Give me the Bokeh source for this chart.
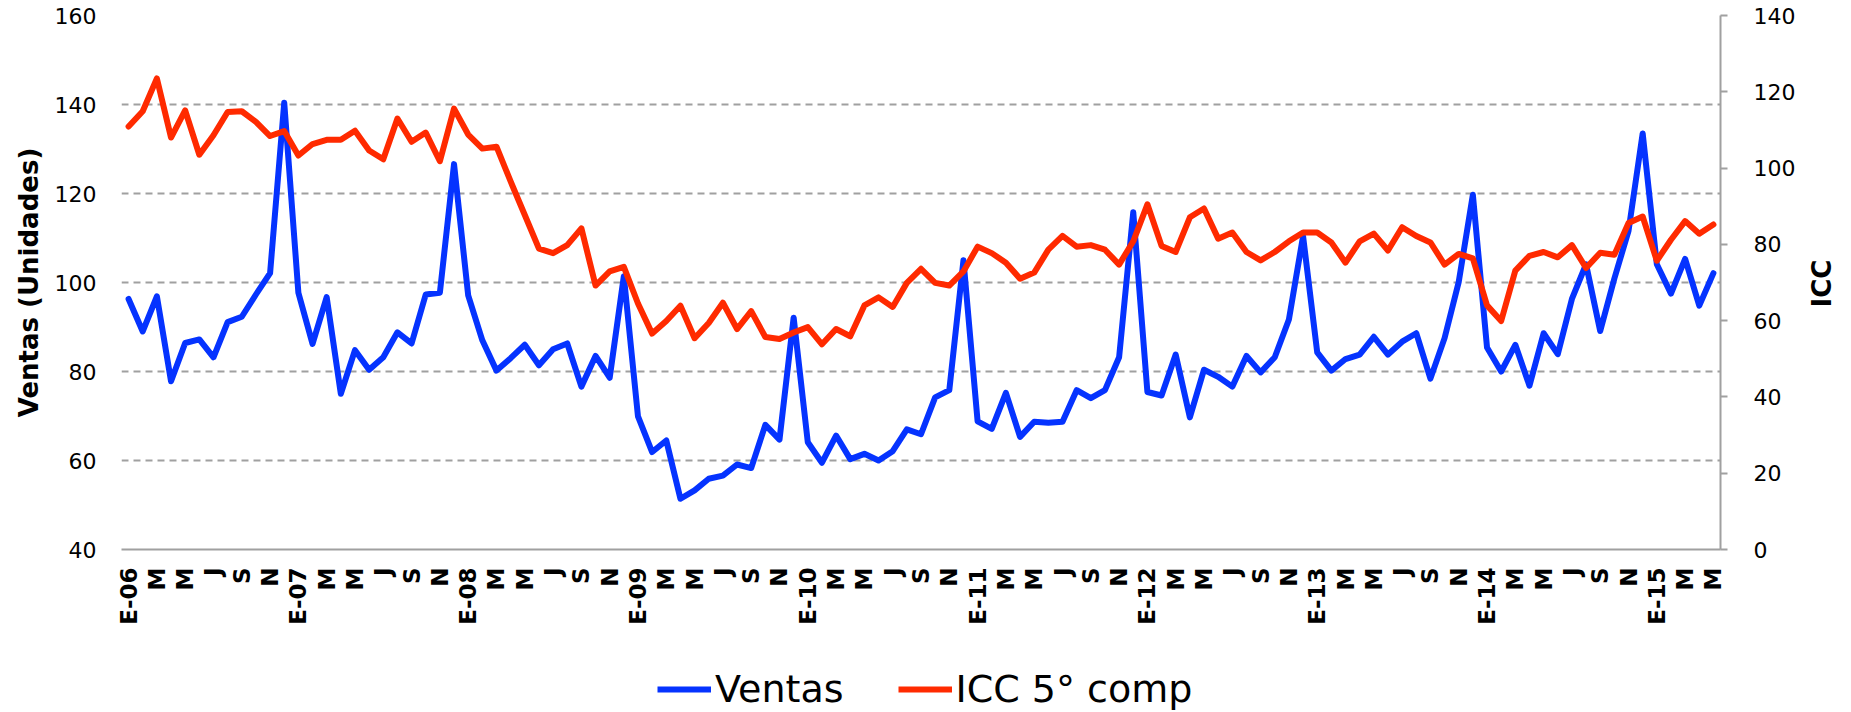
import math
from bokeh.plotting import figure
from bokeh.layouts import row, column
from bokeh.models import Range1d, LinearAxis, Legend, LegendItem, FixedTicker, ColumnDataSource
from bokeh.core.properties import value
from bokeh.embed import file_html
from bokeh.resources import INLINE

# ---- data -------------------------------------------------------------
month_letters = ["E", "F", "M", "A", "M", "J", "J", "A", "S", "O", "N", "D"]
years = [6, 7, 8, 9, 10, 11, 12, 13, 14, 15]

ventas = [96.3, 89.0, 96.9, 77.8, 86.4, 87.2, 83.2, 91.1, 92.3, 97.3, 102.1, 140.4,
          97.7, 86.2, 96.7, 75.0, 84.8, 80.4, 83.2, 88.8, 86.3, 97.3, 97.7, 126.6,
          97.1, 87.0, 80.2, 83.0, 86.0, 81.4, 85.0, 86.3, 76.6, 83.5, 78.6, 101.4,
          69.9, 61.9, 64.5, 51.4, 53.3, 55.9, 56.6, 59.1, 58.3, 68.0, 64.7, 92.1,
          64.1, 59.5, 65.6, 60.3, 61.5, 60.0, 62.1, 67.0, 65.9, 74.2, 75.8, 105.0,
          68.8, 67.1, 75.2, 65.3, 68.7, 68.5, 68.7, 75.8, 74.0, 75.8, 83.2, 115.8,
          75.4, 74.6, 83.8, 69.7, 80.4, 78.8, 76.6, 83.5, 79.8, 83.2, 91.7, 110.4,
          84.3, 80.2, 82.8, 83.8, 87.8, 83.8, 86.7, 88.6, 78.4, 87.5, 100.1, 119.7,
          85.4, 80.0, 86.0, 76.8, 88.6, 83.9, 96.3, 104.1, 89.1, 100.9, 111.6, 133.5,
          104.1, 97.5, 105.3, 94.8, 102.1]

icc = [110.9, 114.9, 123.5, 108.0, 115.1, 103.5, 108.6, 114.7, 114.9, 112.1, 108.4, 109.7,
       103.3, 106.3, 107.4, 107.4, 109.8, 104.6, 102.3, 113.0, 106.9, 109.3, 101.8, 115.6,
       108.8, 105.1, 105.6, 96.5, 87.7, 78.9, 77.7, 79.8, 84.2, 69.2, 72.9, 74.1,
       64.5, 56.6, 59.9, 63.9, 55.4, 59.4, 64.7, 57.8, 62.5, 55.7, 55.2, 56.9,
       58.3, 53.8, 57.8, 55.9, 64.0, 66.1, 63.6, 69.9, 73.6, 69.9, 69.2, 72.9,
       79.4, 77.7, 75.2, 71.0, 72.6, 78.6, 82.2, 79.4, 79.8, 78.6, 74.7, 80.8,
       90.5, 79.6, 78.0, 87.1, 89.4, 81.5, 83.1, 78.0, 75.8, 78.0, 80.8, 83.1,
       83.1, 80.5, 75.2, 80.8, 82.8, 78.4, 84.5, 82.2, 80.5, 74.7, 77.5, 76.3,
       64.0, 59.9, 73.1, 77.0, 78.0, 76.6, 79.8, 73.8, 77.8, 77.3, 85.6, 87.3,
       75.7, 81.2, 86.1, 82.8, 85.2]

left_ticks = [40, 60, 80, 100, 120, 140, 160]
right_ticks = [0, 20, 40, 60, 80, 100, 120, 140]
series_names = ["Ventas", "ICC 5° comp"]
left_title = "Ventas (Unidades)"
right_title = "ICC"

# category labels (one per month); the axis shows every second one
categories = []
for y in years:
    for m, letter in enumerate(month_letters):
        categories.append(f"{letter}-{y:02d}" if m == 0 else letter)
categories = categories[:len(ventas)]
idx = list(range(len(ventas)))
tick_idx = [i for i in idx if i % 2 == 0]
tick_labels = {i: categories[i] for i in tick_idx}

src = ColumnDataSource(dict(x=idx, ventas=ventas, icc=icc))

# ---- layout constants ---------------------------------------------------
FONT = "DejaVu Sans"
GRID = "#a0a0a0"
BLUE = "#0533ff"
RED = "#ff2a00"
LW = 6
TOTAL_W, TOTAL_H = 1850, 711
LEFT_B, FRAME_W, RIGHT_B = 121, 1599, 82
TOP_B, FRAME_H, BOTTOM_B = 15, 534, 100
MAIN_W = LEFT_B + FRAME_W + RIGHT_B
MAIN_H = TOP_B + FRAME_H + BOTTOM_B
LEG_H = TOTAL_H - MAIN_H
SIDE_W = TOTAL_W - MAIN_W

# ---- main figure --------------------------------------------------------
p = figure(frame_width=FRAME_W, frame_height=FRAME_H, output_backend="svg", toolbar_location=None,
           x_range=Range1d(-0.5, len(ventas) - 0.5), y_range=Range1d(40, 160),
           min_border_left=LEFT_B, min_border_right=RIGHT_B,
           min_border_top=TOP_B, min_border_bottom=BOTTOM_B)
p.outline_line_color = None
p.background_fill_color = "white"
p.border_fill_color = "white"
p.extra_y_ranges = {"icc": Range1d(0, 140)}

p.xgrid.visible = False
p.ygrid.grid_line_color = GRID
p.ygrid.grid_line_width = 2
p.ygrid.grid_line_dash = "7 5"
p.ygrid.ticker = FixedTicker(ticks=left_ticks)

xa = p.xaxis[0]
xa.ticker = FixedTicker(ticks=tick_idx)
xa.major_label_overrides = tick_labels
xa.major_label_orientation = math.pi / 2
xa.major_label_text_font = FONT
xa.major_label_text_font_style = "bold"
xa.major_label_text_font_size = "23px"
xa.major_label_text_color = "black"
xa.major_label_standoff = 18
xa.major_tick_line_color = None
xa.major_tick_out = 0
xa.minor_tick_line_color = None
xa.axis_line_color = GRID
xa.axis_line_width = 2

ya = p.yaxis[0]
ya.ticker = FixedTicker(ticks=left_ticks)
ya.axis_line_color = None
ya.major_tick_line_color = None
ya.minor_tick_line_color = None
ya.major_label_text_font = FONT
ya.major_label_text_font_size = "22px"
ya.major_label_text_color = "black"
ya.major_label_standoff = 19
ya.axis_label = left_title
ya.axis_label_text_font = FONT
ya.axis_label_text_font_style = "bold"
ya.axis_label_text_font_size = "26px"
ya.axis_label_text_color = "black"
ya.axis_label_standoff = 8

ra = LinearAxis(y_range_name="icc", ticker=FixedTicker(ticks=right_ticks))
ra.axis_line_color = GRID
ra.axis_line_width = 2
ra.major_tick_line_color = GRID
ra.major_tick_line_width = 2
ra.major_tick_in = 0
ra.major_tick_out = 7
ra.minor_tick_line_color = None
ra.major_label_text_font = FONT
ra.major_label_text_font_size = "22px"
ra.major_label_text_color = "black"
ra.major_label_standoff = 26
p.add_layout(ra, "right")

r1 = p.line("x", "ventas", source=src, line_color=BLUE, line_width=LW,
            line_join="round", line_cap="round")
r2 = p.line("x", "icc", source=src, y_range_name="icc", line_color=RED, line_width=LW,
            line_join="round", line_cap="round")

# ---- legend strip below (its frame is aligned with the main frame) ------
lg = figure(width=MAIN_W, height=LEG_H, output_backend="svg", toolbar_location=None,
            x_axis_type=None, y_axis_type=None,
            x_range=Range1d(0, MAIN_W), y_range=Range1d(0, LEG_H),
            min_border_left=0, min_border_right=0, min_border_top=0, min_border_bottom=0)
lg.grid.visible = False
lg.outline_line_color = None
lg.background_fill_color = "white"
lg.border_fill_color = "white"
# legend swatches only (their points lie outside the strip's visible range)
d1 = lg.line(x=[-20, -10], y=[-20, -20], line_color=BLUE, line_width=LW)
d2 = lg.line(x=[-20, -10], y=[-20, -20], line_color=RED, line_width=LW)
legend = Legend(items=[LegendItem(label=series_names[0], renderers=[d1]),
                       LegendItem(label=series_names[1], renderers=[d2])],
                orientation="horizontal", location=(657 - LEFT_B, 0),
                label_text_font=FONT, label_text_font_size="38px", label_text_color="black",
                glyph_width=54, glyph_height=30, label_standoff=4, spacing=54,
                border_line_color=None, background_fill_alpha=0, padding=0, margin=0)
lg.add_layout(legend)

# ---- right-hand title strip -------------------------------------------
side = figure(width=SIDE_W, height=MAIN_H, output_backend="svg", toolbar_location=None,
              x_axis_type=None, y_axis_type=None,
              x_range=Range1d(0, SIDE_W), y_range=Range1d(0, MAIN_H),
              min_border_left=0, min_border_right=0, min_border_top=0, min_border_bottom=0)
side.grid.visible = False
side.outline_line_color = None
side.background_fill_color = "white"
side.border_fill_color = "white"
side.text(x=[1821.5 - MAIN_W], y=[MAIN_H - 283], text=[right_title], angle=math.pi / 2,
          text_align="center", text_baseline="middle", text_font=value(FONT),
          text_font_style="bold", text_font_size="26px", text_color="black")

layout = row(column(p, lg, spacing=0), side, spacing=0)

open("out.html", "w").write(file_html(layout, INLINE))
